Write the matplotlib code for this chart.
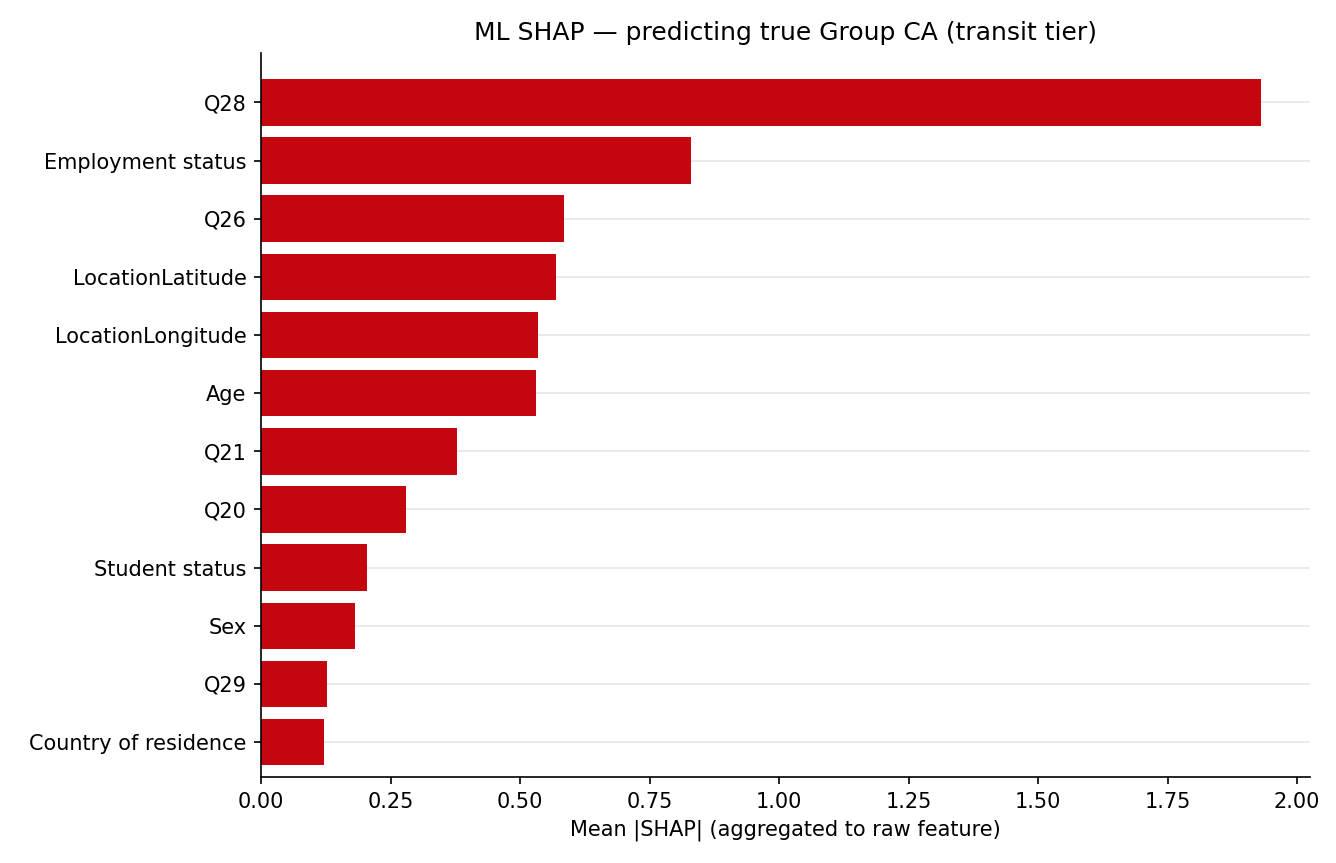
import matplotlib
matplotlib.use("Agg")
import matplotlib.pyplot as plt

features = ["Q28", "Employment status", "Q26", "LocationLatitude", "LocationLongitude",
            "Age", "Q21", "Q20", "Student status", "Sex", "Q29", "Country of residence"]
mean_shap = [1.930, 0.831, 0.584, 0.570, 0.535, 0.531, 0.379, 0.280, 0.205, 0.182, 0.128, 0.122]

fig = plt.figure(figsize=(1336 / 150, 863 / 150), dpi=150)
ax = fig.add_axes([261 / 1336, 1 - 777 / 863, (1310 - 261) / 1336, (777 - 53) / 863])

ypos = list(range(len(features)))[::-1]
ax.barh(ypos, mean_shap, height=0.8, color="#c4070f", zorder=2)
ax.set_yticks(ypos)
ax.set_yticklabels(features)
ax.set_ylim(-0.6, len(features) - 0.15)
ax.set_xlim(0, 2.025)
ax.set_xticks([0, 0.25, 0.5, 0.75, 1.0, 1.25, 1.5, 1.75, 2.0])
ax.grid(axis="y", color="#e6e6e6", linewidth=0.8, zorder=0)
for s in ("top", "right"):
    ax.spines[s].set_visible(False)
ax.set_xlabel("Mean |SHAP| (aggregated to raw feature)")
ax.set_title("ML SHAP — predicting true Group CA (transit tier)", fontsize=12)

fig.savefig("out.png", dpi=150)
